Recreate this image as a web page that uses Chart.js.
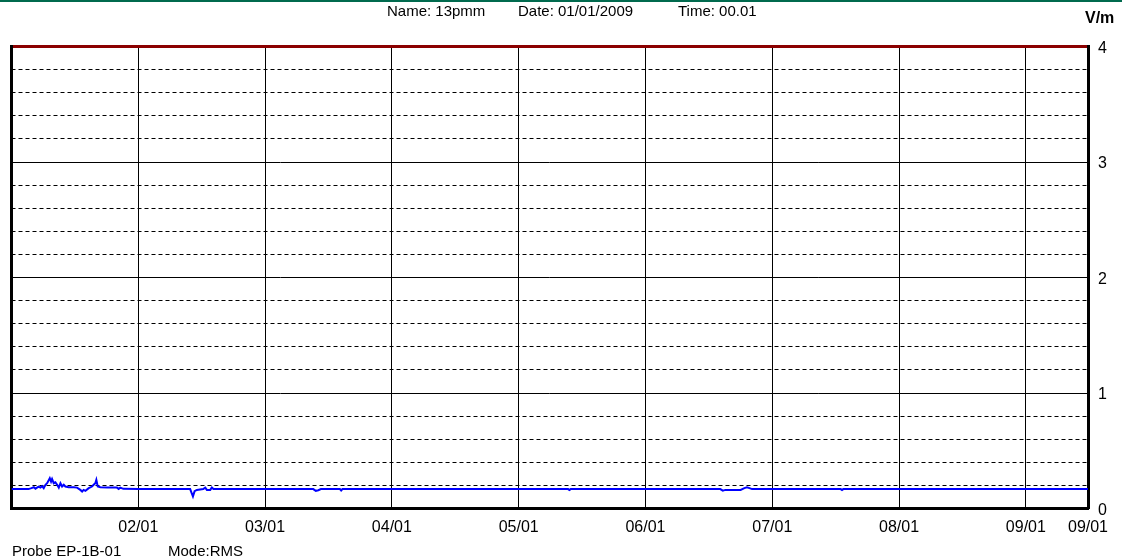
<!DOCTYPE html>
<html>
<head>
<meta charset="utf-8">
<title>13pmm 01/01/2009</title>
<script src="https://cdn.jsdelivr.net/npm/chart.js"></script>
<style>
  html, body { margin: 0; padding: 0; background: #fff; overflow: hidden; }
  #wrap { position: relative; width: 1122px; height: 559px; font-family: "Liberation Sans", Arial, sans-serif; color: #000; }
  #topline { position: absolute; left: 0; top: 0; width: 1122px; height: 2px; background: #006a4e; }
  #grafico { position: absolute; left: 0; top: 0; }
  .txt { position: absolute; font-size: 15px; line-height: 17px; white-space: nowrap; }
  #unidad { font-weight: bold; font-size: 16px; }
</style>
</head>
<body>
<div id="wrap">
  <canvas id="grafico" width="1122" height="559"></canvas>
  <div id="topline"></div>
  <div class="txt" style="left:387px; top:2px;">Name: 13pmm</div>
  <div class="txt" style="left:518px; top:2px;">Date: 01/01/2009</div>
  <div class="txt" style="left:678px; top:2px;">Time: 00.01</div>
  <div class="txt" id="unidad" style="left:1085px; top:9px;">V/m</div>
  <div class="txt" style="left:12px; top:542px;">Probe EP-1B-01</div>
  <div class="txt" style="left:168px; top:542px;">Mode:RMS</div>
</div>
<script>
// tiempo en dias desde 01/01 00:00
const tiempoDias = [0, 0.134, 0.157, 0.176, 0.189, 0.213, 0.228, 0.241, 0.254, 0.268, 0.281, 0.302, 0.312, 0.320, 0.333, 0.346, 0.360, 0.373, 0.386, 0.399, 0.412, 0.425, 0.451, 0.491, 0.517, 0.543, 0.557, 0.569, 0.583, 0.609, 0.635, 0.648, 0.661, 0.669, 0.680, 0.701, 0.754, 0.832, 0.845, 0.858, 0.882, 1.0, 1.409, 1.431, 1.444, 1.462, 1.512, 1.528, 1.541, 1.567, 1.580, 1.593, 2.0, 2.38, 2.40, 2.42, 2.44, 2.59, 2.60, 2.61, 3.0, 4.0, 4.39, 4.40, 4.41, 5.0, 5.59, 5.61, 5.63, 5.75, 5.78, 5.80, 5.82, 5.84, 6.0, 6.54, 6.55, 6.56, 7.0, 8.0, 8.49];
// campo electrico V/m
const campoVm = [0.168, 0.168, 0.176, 0.184, 0.172, 0.190, 0.181, 0.193, 0.176, 0.205, 0.219, 0.262, 0.233, 0.256, 0.219, 0.227, 0.205, 0.181, 0.219, 0.190, 0.205, 0.190, 0.184, 0.184, 0.181, 0.161, 0.147, 0.161, 0.153, 0.176, 0.190, 0.205, 0.219, 0.248, 0.190, 0.184, 0.181, 0.181, 0.170, 0.181, 0.170, 0.168, 0.168, 0.104, 0.150, 0.161, 0.168, 0.181, 0.161, 0.161, 0.181, 0.168, 0.168, 0.168, 0.153, 0.158, 0.168, 0.168, 0.156, 0.168, 0.168, 0.168, 0.168, 0.160, 0.168, 0.168, 0.168, 0.155, 0.161, 0.161, 0.176, 0.184, 0.176, 0.168, 0.168, 0.168, 0.160, 0.168, 0.168, 0.168, 0.168];

const ticksX = [1, 2, 3, 4, 5, 6, 7, 8, 8.49];
const etiquetasX = ["02/01", "03/01", "04/01", "05/01", "06/01", "07/01", "08/01", "09/01", "09/01"];
const ticksY = [0, 1, 2, 3, 4];
const etiquetasY = ["0", "1", "2", "3", "4"];

const puntos = tiempoDias.map((t, i) => ({ x: t, y: campoVm[i] }));

Chart.defaults.font.family = '"Liberation Sans", Arial, sans-serif';
Chart.defaults.color = "#000";

const ctx = document.getElementById("grafico").getContext("2d");
new Chart(ctx, {
    type: "line",
    data: {
        datasets: [{
            data: puntos,
            borderColor: "#0000ff",
            borderWidth: 2,
            pointRadius: 0,
            tension: 0,
            fill: false,
            xAxisID: "x",
            yAxisID: "y"
        }]
    },
    options: {
        responsive: false,
        animation: false,
        devicePixelRatio: 1,
        layout: { padding: { top: 46.5, left: 11.5, right: 0, bottom: 0 } },
        plugins: { legend: { display: false }, tooltip: { enabled: false } },
        scales: {
            x: {
                type: "linear",
                position: "bottom",
                min: 0,
                max: 8.49,
                afterBuildTicks: s => { s.ticks = ticksX.map(v => ({ value: v })); },
                afterFit: s => { s.height = 50.5; },
                ticks: {
                    autoSkip: false,
                    maxRotation: 0,
                    padding: 9,
                    font: { size: 16 },
                    callback: (v, i) => etiquetasX[i]
                },
                grid: { color: "#000", lineWidth: 1, drawTicks: false },
                border: { color: "#000", width: 3 }
            },
            xTop: {
                type: "linear",
                position: "top",
                min: 0,
                max: 8.49,
                afterFit: s => { s.height = 0; },
                ticks: { display: false },
                grid: { display: false },
                border: { color: "#8b0000", width: 3 }
            },
            y: {
                type: "linear",
                position: "right",
                min: 0,
                max: 4,
                afterBuildTicks: s => { s.ticks = ticksY.map(v => ({ value: v })); },
                afterFit: s => { s.width = 34; },
                ticks: {
                    padding: 10,
                    labelOffset: 2,
                    font: { size: 16 },
                    callback: (v, i) => etiquetasY[i]
                },
                grid: { color: "#000", lineWidth: 1, drawTicks: false },
                border: { color: "#000", width: 3 }
            },
            yMenor: {
                type: "linear",
                position: "right",
                min: 0,
                max: 4,
                afterFit: s => { s.width = 0; },
                ticks: { display: false, stepSize: 0.2 },
                grid: {
                    drawTicks: false,
                    lineWidth: 1,
                    color: c => (c.tick && Math.abs(c.tick.value - Math.round(c.tick.value)) < 1e-6) ? "rgba(0,0,0,0)" : "#000"
                },
                border: { display: false, dash: [4, 3] }
            },
            yIzq: {
                type: "linear",
                position: "left",
                min: 0,
                max: 4,
                afterFit: s => { s.width = 0; },
                ticks: { display: false },
                grid: { display: false },
                border: { color: "#000", width: 3 }
            }
        }
    }
});
</script>
</body>
</html>
